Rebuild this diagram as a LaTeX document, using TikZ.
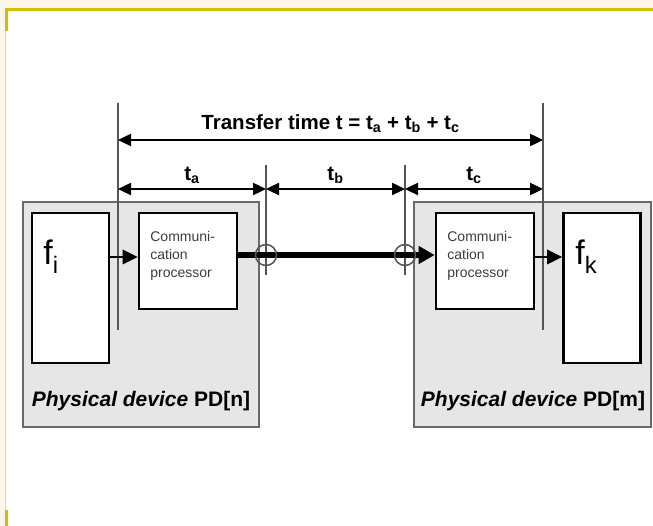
\documentclass[tikz,border=0pt]{standalone}
\usepackage{fontspec}
\setmainfont{Liberation Sans}
\usetikzlibrary{arrows.meta,positioning}

\definecolor{cream}{RGB}{253,245,231}
\definecolor{frameyellow}{RGB}{208,192,0}
\definecolor{lightyellow}{RGB}{230,220,100}
\definecolor{boxgray}{RGB}{230,230,230}
\definecolor{edgegray}{RGB}{105,105,105}
\definecolor{dimgray}{RGB}{85,85,85}
\definecolor{textgray}{RGB}{60,60,60}

\tikzset{every picture/.style={line width=0.75pt},
  devbox/.style={draw=edgegray, fill=boxgray, line width=2.6pt, inner sep=0pt, minimum height=225pt},
  funcbox/.style={draw=black, fill=white, line width=2.6pt, inner sep=0pt, minimum width=77pt, minimum height=150pt},
  procbox/.style={draw=black, fill=white, line width=2.6pt, inner sep=0pt, minimum width=98pt, minimum height=96pt},
  joint/.style={circle, draw=dimgray, line width=1.5pt, inner sep=0pt, minimum size=21pt},
  dimline/.style={draw=dimgray, line width=1.5pt},
  dimarrow/.style={draw=black, line width=2.4pt, {Triangle[length=13pt,width=12pt]}-{Triangle[length=13pt,width=12pt]}},
  flow/.style={draw=black, line width=2.8pt, -{Triangle[length=15pt,width=14pt]}},
  bus/.style={draw=black, line width=5.5pt, -{Triangle[length=16pt,width=17pt]}},
  dimlabel/.style={font=\fontsize{20.5}{20.5}\selectfont\bfseries, text=black},
  proclabel/.style={font=\fontsize{14}{18}\selectfont, text=textgray, align=left, inner sep=0pt},
  funclabel/.style={font=\fontsize{34}{34}\selectfont, inner sep=0pt},
  devlabel/.style={font=\fontsize{21}{21}\selectfont\bfseries, inner sep=0pt}
}

\begin{document}
\begin{tikzpicture}[x=1pt,y=1pt,yscale=-1]
  \useasboundingbox (0,0) rectangle (653,526);

  %Frame corner
  \fill[cream] (0,0) rectangle (653,8);
  \fill[cream] (0,0) rectangle (5,526);
  \fill[frameyellow] (5,8) rectangle (653,11);
  \fill[frameyellow] (5,8) rectangle (7.5,31);
  \draw[lightyellow, line width=1.2pt] (5.8,31) -- (5.8,510);
  \fill[frameyellow] (5,510) rectangle (7.5,526);

  %Physical devices
  \node[devbox, minimum width=236pt] (devn) at (141,314.5) {};
  \node[devbox, minimum width=237pt] (devm) at (532.5,314.5) {};
  \node[devlabel, anchor=base] at (141,406) {\textit{Physical device} PD[n]};
  \node[devlabel, anchor=base] at (533,406) {\textit{Physical device} PD[m]};

  %Functions and communication processors
  \node[funcbox] (fi) at (70.5,288) {};
  \node[funcbox] (fk) at (602,288) {};
  \node[procbox] (cpn) at (188,261) {};
  \node[procbox] (cpm) at (485,261) {};
  \node[funclabel, anchor=base west] at (43,265) {f\textsubscript{i}};
  \node[funclabel, anchor=base west] at (575,265) {f\textsubscript{k}};
  \node[proclabel, anchor=north west] at (150,231) {Communi-\\cation\\processor};
  \node[proclabel, anchor=north west] at (447,231) {Communi-\\cation\\processor};

  %Time marks
  \coordinate (ma) at (118,103);
  \coordinate (md) at (543,103);
  \coordinate (mb) at (266,165);
  \coordinate (mc) at (405,165);
  \draw[dimline] (ma) -- (118,330);
  \draw[dimline] (md) -- (543,330);
  \draw[dimline] (mb) -- (266,275);
  \draw[dimline] (mc) -- (405,275);

  %Transfer time
  \coordinate (total) at (0,140);
  \coordinate (part) at (0,189);
  \draw[dimarrow] (ma |- total) -- node[dimlabel, above=3pt] {Transfer time t = t\textsubscript{a} + t\textsubscript{b} + t\textsubscript{c}} (md |- total);
  \draw[dimarrow] (ma |- part) -- node[dimlabel, above=1pt] {t\textsubscript{a}} (mb |- part);
  \draw[dimarrow] (mb |- part) -- node[dimlabel, above=1pt] {t\textsubscript{b}} (mc |- part);
  \draw[dimarrow] (mc |- part) -- node[dimlabel, above=1pt] {t\textsubscript{c}} (md |- part);

  %Data path
  \coordinate (feed) at (0,257);
  \coordinate (link) at (0,255);
  \draw[flow] (fi.east |- feed) -- (cpn.west |- feed);
  \draw[flow] (cpm.east |- feed) -- (fk.west |- feed);
  \draw[bus] (cpn.east |- link) -- (cpm.west |- link);
  \node[joint] (jn) at (mb |- link) {};
  \node[joint] (jm) at (mc |- link) {};
\end{tikzpicture}
\end{document}
